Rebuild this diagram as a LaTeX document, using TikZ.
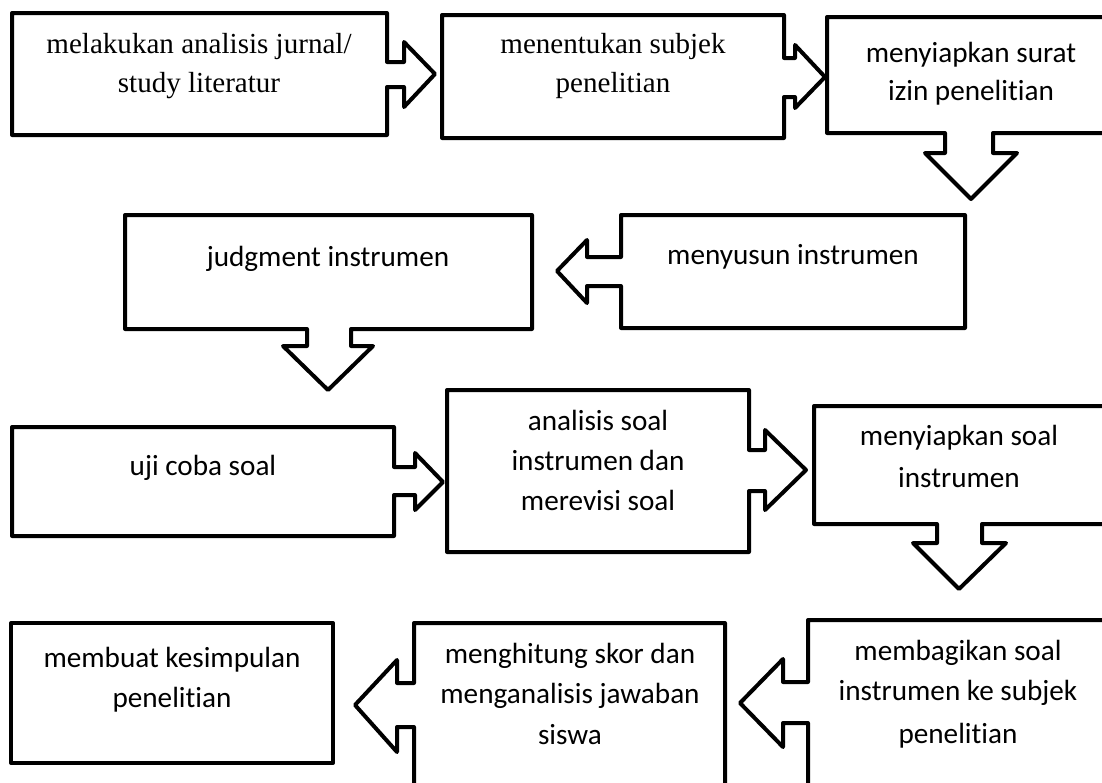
\documentclass[tikz,border=0pt]{standalone}
\usepackage{fontspec}
\setmainfont{Liberation Serif}
\newfontfamily\calfont[Ligatures=NoCommon]{Carlito}
\begin{document}
\begin{tikzpicture}[x=0.75pt,y=-0.75pt,
  shapeline/.style={draw=black,line width=3pt,line join=round,fill=white},
  serif/.style={anchor=base,inner sep=0pt,font=\fontsize{21.8pt}{26pt}\selectfont},
  cal/.style={anchor=base,inner sep=0pt,font=\calfont\fontsize{21.9pt}{26pt}\selectfont}]
\useasboundingbox (0,0) rectangle (1102,782);
\clip (0,0) rectangle (1102,782);
% A
\draw[shapeline] (12,13) -- (387,13) -- (387,62) -- (404,62) -- (404,42) -- (435,74) -- (404,107) -- (404,87) -- (387,87) -- (387,135) -- (12,135) -- cycle;
% B
\draw[shapeline] (442,15) -- (784,15) -- (784,58) -- (795,58) -- (795,45) -- (825,77) -- (795,108) -- (795,97) -- (784,97) -- (784,138) -- (442,138) -- cycle;
% C
\draw[shapeline] (827,17) -- (1115,17) -- (1115,133) -- (993,133) -- (993,153) -- (1017,153) -- (971,199) -- (925,153) -- (945,153) -- (945,133) -- (827,133) -- cycle;
% D
\draw[shapeline] (125,215) -- (532,215) -- (532,329) -- (351,329) -- (351,346) -- (373,346) -- (328,390) -- (283,346) -- (307,346) -- (307,329) -- (125,329) -- cycle;
% E
\draw[shapeline] (621,215) -- (965,215) -- (965,328) -- (621,328) -- (621,286) -- (587,286) -- (587,303) -- (557,271) -- (587,240) -- (587,257) -- (621,257) -- cycle;
% F
\draw[shapeline] (12,427) -- (394,427) -- (394,467) -- (415,467) -- (415,453) -- (443,482) -- (415,510) -- (415,495) -- (394,495) -- (394,536) -- (12,536) -- cycle;
% G
\draw[shapeline] (447,390) -- (749,390) -- (749,450) -- (765,450) -- (765,430) -- (806,470) -- (765,510) -- (765,491) -- (749,491) -- (749,552) -- (447,552) -- cycle;
% H
\draw[shapeline] (814,406) -- (1108,406) -- (1108,524) -- (982,524) -- (982,543) -- (1006,543) -- (959,589) -- (913,543) -- (937,543) -- (937,524) -- (814,524) -- cycle;
% I
\draw[shapeline] (11,623) rectangle (333,763);
% J
\draw[shapeline] (414,623) -- (725,623) -- (725,800) -- (414,800) -- (414,727) -- (397,727) -- (397,752) -- (355,705) -- (397,660) -- (397,683) -- (414,683) -- cycle;
% K
\draw[shapeline] (808,620) -- (1112,620) -- (1112,800) -- (808,800) -- (808,723) -- (783,723) -- (783,747) -- (740,703) -- (783,659) -- (783,682) -- (808,682) -- cycle;
% texts
\node[serif] (a1) at (199,53) {melakukan analisis jurnal/};
\node[serif] (a2) at (199,92) {study literatur};
\node[serif] (b1) at (613,53) {menentukan subjek};
\node[serif] (b2) at (613,92) {penelitian};
\node[cal] (c1) at (971,62) {menyiapkan surat};
\node[cal] (c2) at (971,100) {izin penelitian};
\node[cal] (d1) at (328,266) {judgment instrumen};
\node[cal] (e1) at (793,264) {menyusun instrumen};
\node[cal] (f1) at (203,475) {uji coba soal};
\node[cal] (g1) at (598,430) {analisis soal};
\node[cal] (g2) at (598,470) {instrumen dan};
\node[cal] (g3) at (598,510) {merevisi soal};
\node[cal] (h1) at (959,445) {menyiapkan soal};
\node[cal] (h2) at (959,487) {instrumen};
\node[cal] (i1) at (172,667) {membuat kesimpulan};
\node[cal] (i2) at (172,707) {penelitian};
\node[cal] (j1) at (570,663) {menghitung skor dan};
\node[cal] (j2) at (570,703) {menganalisis jawaban};
\node[cal] (j3) at (570,744) {siswa};
\node[cal] (k1) at (958,660) {membagikan soal};
\node[cal] (k2) at (958,700) {instrumen ke subjek};
\node[cal] (k3) at (958,743) {penelitian};
\end{tikzpicture}
\end{document}
